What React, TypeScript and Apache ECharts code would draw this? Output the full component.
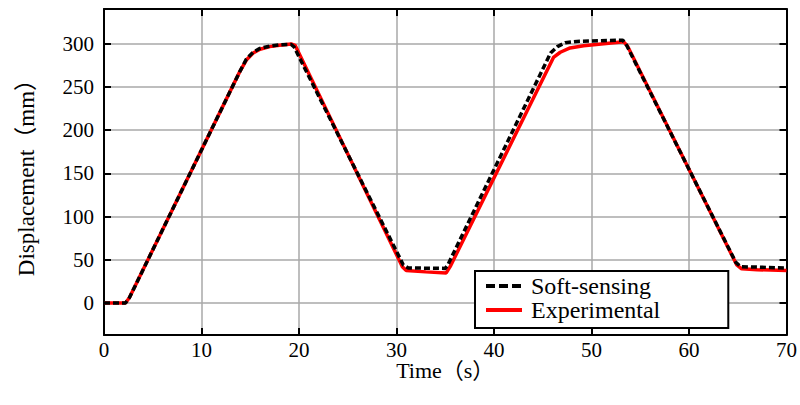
import { useEffect, useRef } from 'react';
import * as echarts from 'echarts';

// Axis ticks
const xTicks = [0, 10, 20, 30, 40, 50, 60, 70];
const yTicks = [0, 50, 100, 150, 200, 250, 300];

// Experimental displacement (mm) against time (s)
const expTime = [0, 2.2, 2.6, 13.9, 14.6, 15.3, 16, 17, 18, 19.2, 19.6, 30.6, 31, 33, 35.1, 35.5, 46.1, 46.8, 47.8, 49.2, 51, 53.3, 53.7, 64.9, 65.4, 67, 70];
const expDisp = [0, 0, 6, 267, 281, 289, 293.5, 296.5, 298, 299.5, 298, 42, 37.5, 36, 34.8, 42, 284, 290, 295, 297.5, 299.5, 302, 297, 44, 39.5, 38.5, 37.5];

// Soft-sensing displacement (mm) against time (s)
const softTime = [0, 2.2, 2.6, 13.9, 14.6, 15.3, 16, 17, 18, 19.2, 19.5, 30.7, 31.2, 33, 35, 35.3, 45.8, 46.5, 47.3, 48.5, 53.2, 53.6, 64.8, 65.3, 67, 70];
const softDisp = [0, 0, 6, 267, 282, 290, 294.5, 297, 298.5, 299, 296, 44, 40.5, 40.3, 40, 45, 289, 296.5, 301, 302.5, 304, 298, 47, 42, 41.5, 40.5];

const FONT = '"Liberation Serif", "Noto Sans CJK SC", serif';

const pairs = (t: number[], v: number[]) => t.map((x, i) => [x, v[i]]);

export default function App() {
  const ref = useRef<HTMLDivElement>(null);

  useEffect(() => {
    if (!ref.current) return;
    const chart = echarts.init(ref.current, null, { renderer: 'svg' });

    const boxLine = { show: true, onZero: false, lineStyle: { color: '#000', width: 2 } };
    const inTick = { show: true, inside: true, length: 7, lineStyle: { color: '#000', width: 2 } };
    const grid = { show: true, lineStyle: { color: '#a8a8a8', width: 1.5 } };

    chart.setOption({
      animation: false,
      backgroundColor: '#fff',
      grid: { left: 104, right: 10, top: 9, bottom: 70, containLabel: false },
      xAxis: [
        {
          type: 'value',
          min: xTicks[0],
          max: xTicks[xTicks.length - 1],
          interval: 10,
          position: 'bottom',
          axisLine: boxLine,
          axisTick: inTick,
          splitLine: grid,
          axisLabel: { color: '#000', fontFamily: FONT, fontSize: 21, lineHeight: 20, margin: 5 },
          name: 'Time（s）',
          nameLocation: 'middle',
          nameGap: 25,
          nameMoveOverlap: false,
          nameTextStyle: { color: '#000', fontFamily: FONT, fontSize: 22, lineHeight: 20 },
        },
        {
          type: 'value',
          min: xTicks[0],
          max: xTicks[xTicks.length - 1],
          interval: 10,
          position: 'top',
          axisLine: boxLine,
          axisTick: inTick,
          splitLine: { show: false },
          axisLabel: { show: false },
        },
      ],
      yAxis: [
        {
          type: 'value',
          min: -37,
          max: 340,
          position: 'left',
          axisLine: boxLine,
          axisTick: { ...inTick, customValues: yTicks },
          splitLine: grid,
          axisLabel: { color: '#000', fontFamily: FONT, fontSize: 21, margin: 10, customValues: yTicks },
          name: 'Displacement（mm）',
          nameLocation: 'middle',
          nameGap: 66,
          nameMoveOverlap: false,
          nameTextStyle: { color: '#000', fontFamily: FONT, fontSize: 23 },
        },
        {
          type: 'value',
          min: -37,
          max: 340,
          position: 'right',
          axisLine: boxLine,
          axisTick: { ...inTick, customValues: yTicks },
          splitLine: { show: false },
          axisLabel: { show: false },
        },
      ],
      legend: {
        orient: 'vertical',
        left: 475,
        top: 271,
        padding: [3, 68, 6, 9],
        itemGap: 0,
        itemWidth: 36,
        itemHeight: 24,
        borderColor: '#000',
        borderWidth: 2,
        backgroundColor: '#fff',
        itemStyle: { opacity: 0 },
        textStyle: { color: '#000', fontFamily: FONT, fontSize: 24, padding: [0, 0, 0, 4] },
        data: [
          { name: 'Soft-sensing', lineStyle: { color: '#000', width: 4, type: [9, 4] }, itemStyle: { opacity: 0 } },
          { name: 'Experimental', lineStyle: { color: '#ff0000', width: 4 }, itemStyle: { opacity: 0 } },
        ],
      },
      series: [
        {
          name: 'Experimental',
          type: 'line',
          data: pairs(expTime, expDisp),
          showSymbol: false,
          symbol: 'none',
          lineStyle: { color: '#ff0000', width: 3.5 },
          itemStyle: { color: '#ff0000' },
          z: 2,
        },
        {
          name: 'Soft-sensing',
          type: 'line',
          data: pairs(softTime, softDisp),
          showSymbol: false,
          symbol: 'none',
          lineStyle: { color: '#000', width: 3.5, type: [6, 3] },
          itemStyle: { color: '#000' },
          z: 3,
        },
      ],
    });

    return () => chart.dispose();
  }, []);

  return (
    <div
      ref={ref}
      style={{ position: 'fixed', left: 0, top: 0, width: 800, height: 405, background: '#fff' }}
    />
  );
}
